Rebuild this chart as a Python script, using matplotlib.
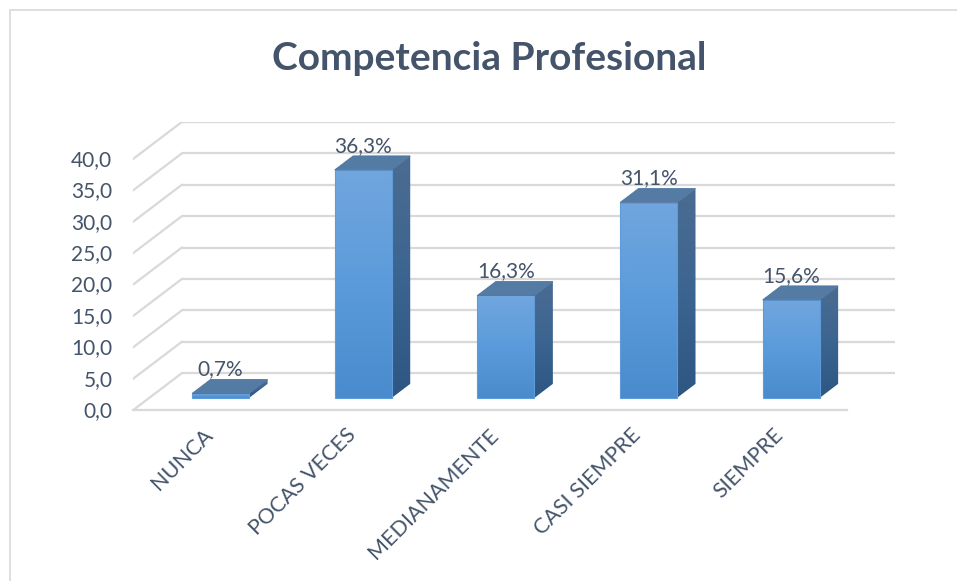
import numpy as np
import matplotlib
matplotlib.use("Agg")
import matplotlib.pyplot as plt
from matplotlib.patches import Polygon, Rectangle
from matplotlib.colors import LinearSegmentedColormap
import matplotlib.transforms as mtransforms

# ---- data ----
categories = ["NUNCA", "POCAS VECES", "MEDIANAMENTE", "CASI SIEMPRE", "SIEMPRE"]
values = [0.7, 36.3, 16.3, 31.1, 15.6]
value_labels = ["0,7%", "36,3%", "16,3%", "31,1%", "15,6%"]
yticks = [0, 5, 10, 15, 20, 25, 30, 35, 40]
ytick_labels = ["0,0", "5,0", "10,0", "15,0", "20,0", "25,0", "30,0", "35,0", "40,0"]
title = "Competencia Profesional"

# ---- style ----
TEXT = "#44546A"
GRID = "#D9D9D9"
FONT = "Lato"
DX, DY = 0.34, 5.86      # depth projection (x in category units, y in value units)
D1, D2 = 0.33, 0.71      # bar front / back depth fractions
BW = 0.40                # bar width

fig = plt.figure(figsize=(9.57, 5.81), dpi=100)
fig.patch.set_facecolor("white")

# chart border
fig.add_artist(Rectangle((10/957, -0.01), 1.0, 1 - 10/581 + 0.01,
                         transform=fig.transFigure, fill=False,
                         edgecolor=GRID, linewidth=1.2))

ax = fig.add_axes([133.3/957, (581-410)/581, (895-133.3)/957, (410-122)/581])
ax.set_xlim(-0.5, len(categories) - 0.5 + DX)
ax.set_ylim(0, yticks[-1] + DY)
for s in ax.spines.values():
    s.set_visible(False)
ax.set_xticks([])
ax.set_yticks([])
ax.patch.set_alpha(0)

def proj(x, v, d):
    return (x + d * DX, v + d * DY)

x0, x1 = -0.5, len(categories) - 0.5
# gridlines: back wall + left side diagonals
for v in yticks:
    bx0 = proj(x0, v, 1)
    bx1 = proj(x1, v, 1)
    ax.plot([bx0[0], bx1[0]], [bx0[1], bx1[1]], color=GRID, lw=1.6,
            solid_capstyle="butt", zorder=1)
    f = proj(x0, v, 0)
    ax.plot([f[0], bx0[0]], [f[1], bx0[1]], color=GRID, lw=1.6, zorder=1)
# floor front line
ax.plot([x0, x1], [0, 0], color=GRID, lw=1.6, zorder=1, clip_on=False)

front_cmap = LinearSegmentedColormap.from_list("front", ["#4A8BCD", "#5B9BDB", "#71A6DE"])
side_cmap = LinearSegmentedColormap.from_list("side", ["#2D5782", "#3B6590", "#4B6C92"])
grad = np.linspace(0, 1, 256).reshape(-1, 1)

for i, (v, lab) in enumerate(zip(values, value_labels)):
    xl, xr = i - BW / 2, i + BW / 2
    fl = proj(xl, 0, D1); fr = proj(xr, 0, D1)
    tl = proj(xl, v, D1); tr = proj(xr, v, D1)
    br_b = proj(xr, 0, D2); br_t = proj(xr, v, D2); bl_t = proj(xl, v, D2)

    # front face
    front = Polygon([fl, fr, tr, tl], closed=True, facecolor="none",
                    edgecolor="#5E9BD8", lw=0.8, zorder=4)
    ax.add_patch(front)
    im = ax.imshow(grad, cmap=front_cmap, origin="lower", aspect="auto",
                   extent=(fl[0], fr[0], fl[1], tl[1]), zorder=3,
                   interpolation="bilinear")
    im.set_clip_path(front)

    # side face
    side = Polygon([fr, br_b, br_t, tr], closed=True, facecolor="none",
                   edgecolor="none", zorder=4)
    ax.add_patch(side)
    im2 = ax.imshow(grad, cmap=side_cmap, origin="lower", aspect="auto",
                    extent=(fr[0], br_b[0], fr[1], br_t[1]), zorder=3,
                    interpolation="bilinear")
    im2.set_clip_path(side)

    # top face
    top = Polygon([tl, tr, br_t, bl_t], closed=True, facecolor="#547BA4",
                  edgecolor="#4F76A0", lw=0.6, zorder=5)
    ax.add_patch(top)

    # value label
    ax.text(i + D1 * DX, v + D2 * DY, lab, ha="center", va="bottom",
            fontsize=15, color=TEXT, family=FONT, zorder=6)

ax.set_xlim(-0.5, len(categories) - 0.5 + DX)
ax.set_ylim(0, yticks[-1] + DY)

# y tick labels (front plane)
ytrans = mtransforms.offset_copy(ax.transData, fig=fig, x=-21, y=-1, units="dots")
for v, t in zip(yticks, ytick_labels):
    ax.text(x0, v, t, transform=ytrans, ha="right", va="center",
            fontsize=15, color=TEXT, family=FONT, clip_on=False)

# category labels
ctrans = mtransforms.offset_copy(ax.transData, fig=fig, x=-2, y=-15, units="dots")
for i, c in enumerate(categories):
    ax.text(i, 0, c, transform=ctrans, ha="right", va="top", rotation=45,
            rotation_mode="anchor", fontsize=15.5, color=TEXT, family=FONT,
            clip_on=False)

fig.text(489/957, 1 - 58/581, title, ha="center", va="center",
         fontsize=28, fontweight="bold", color=TEXT, family=FONT)

fig.savefig("out.png", dpi=100, facecolor="white")
